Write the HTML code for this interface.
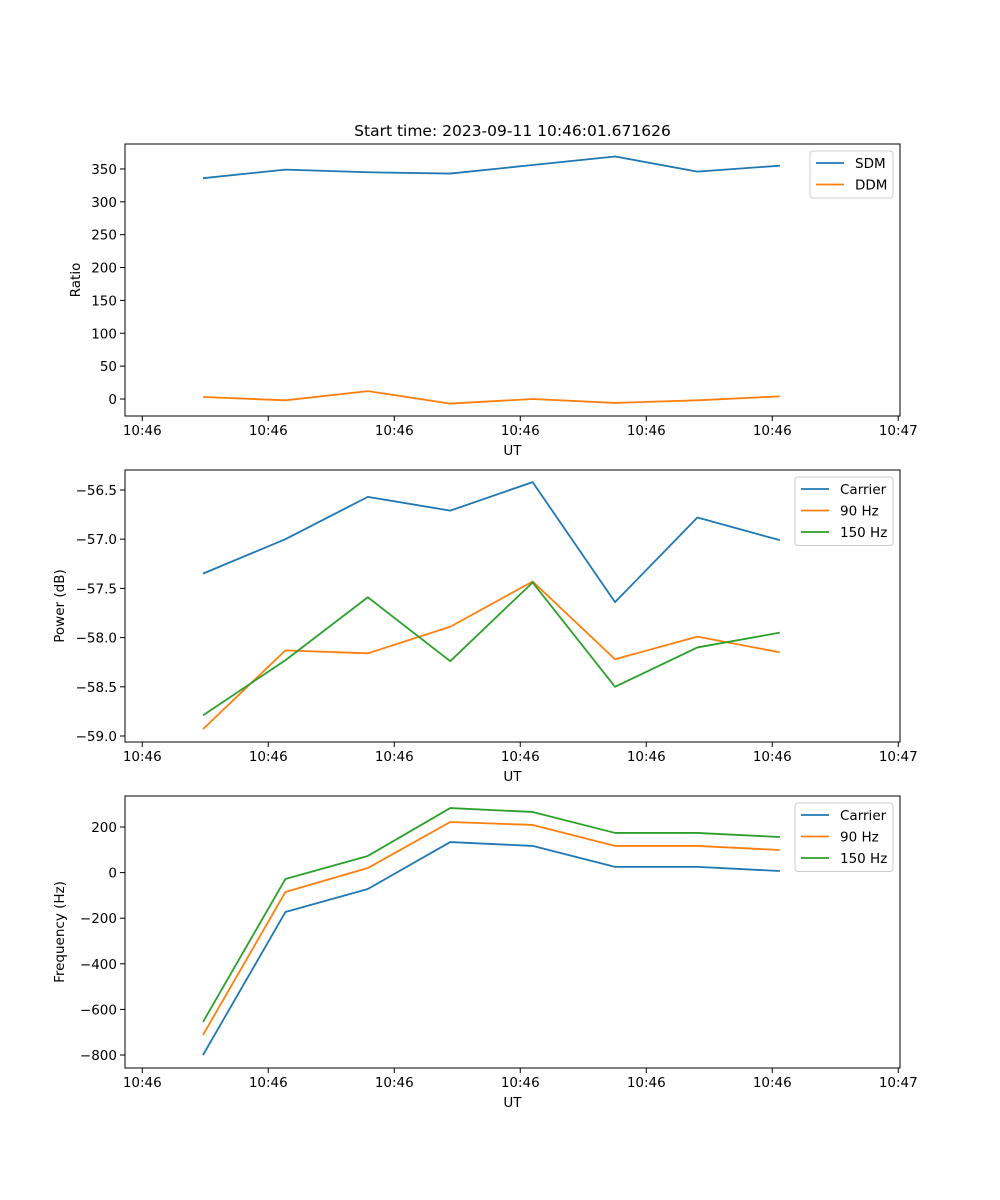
<!DOCTYPE html>
<html><head><meta charset="utf-8"><style>
body{margin:0;background:#fff}
svg{display:block;font-family:"DejaVu Sans","Liberation Sans",sans-serif}
</style></head><body>
<svg id="fig" width="1000" height="1200" viewBox="0 0 1000 1200">
<rect width="1000" height="1200" fill="#fff"/>
<text x="512.5" y="136" text-anchor="middle" font-size="15.5">Start time: 2023-09-11 10:46:01.671626</text>
</svg>
<script>
// time of each sample (s after 10:46:00)
const times = [1.672, 2.326, 2.980, 3.634, 4.288, 4.942, 5.596, 6.250];
const xTicks = [1.19, 2.19, 3.19, 4.19, 5.19, 6.19, 7.19];
const xTickLabels = ["10:46","10:46","10:46","10:46","10:46","10:46","10:47"];
const sdm = [336, 349, 345, 343, 356, 369, 346, 355];
const ddm = [3, -2, 12, -7, 0, -6, -2, 4];
const powCarrier = [-57.35, -57.0, -56.57, -56.71, -56.42, -57.64, -56.78, -57.01];
const pow90 = [-58.93, -58.13, -58.16, -57.89, -57.43, -58.22, -57.99, -58.15];
const pow150 = [-58.79, -58.23, -57.59, -58.24, -57.44, -58.50, -58.10, -57.95];
const freqCarrier = [-800, -173, -72, 134, 117, 25, 25, 7];
const freq90 = [-712, -85, 20, 222, 209, 117, 117, 99];
const freq150 = [-655, -28, 73, 283, 266, 174, 174, 156];
const ratioTicks = [0, 50, 100, 150, 200, 250, 300, 350];
const powTicks = [-59.0, -58.5, -58.0, -57.5, -57.0, -56.5];
const freqTicks = [-800, -600, -400, -200, 0, 200];

const NS = "http://www.w3.org/2000/svg";
const svg = document.getElementById("fig");
function el(tag, attrs, parent){const e=document.createElementNS(NS,tag);for(const k in attrs)e.setAttribute(k,attrs[k]);(parent||svg).appendChild(e);return e;}
const L=125,R=900;
const xMin=times[0]-(203-125)/126, xMax=xMin+(R-L)/126;
const xs=t=>L+(t-xMin)/(xMax-xMin)*(R-L);

function panel(name, top, bot, yMin, yMax, yTicks, fmt, ylabel, series, legendW){
  const g=el("g",{});
  
  
  const ys=v=>bot-(v-yMin)/(yMax-yMin)*(bot-top);
  xTicks.forEach((t,i)=>{
    const x=xs(t);
    el("line",{x1:x,x2:x,y1:bot,y2:bot+5,stroke:"#000","stroke-width":1},g);
    const tx=el("text",{x:x,y:bot+19,"text-anchor":"middle","font-size":13.5},g);
    tx.textContent=xTickLabels[i];
    
    
  });
  yTicks.forEach(v=>{
    const y=ys(v);
    el("line",{x1:L-5,x2:L,y1:y,y2:y,stroke:"#000","stroke-width":1},g);
    const tx=el("text",{x:L-8,y:y+5,"text-anchor":"end","font-size":13.5},g);
    tx.textContent=fmt(v);
    
    
  });
  series.forEach(s=>{
    const p=el("polyline",{points:s.v.map((v,i)=>xs(times[i])+","+ys(v)).join(" "),fill:"none",stroke:s.c,"stroke-width":1.8,"stroke-linejoin":"round"},g);
    
    
  });
  el("rect",{x:L,y:top,width:R-L,height:bot-top,fill:"none",stroke:"#000","stroke-width":1},g);
  const xl=el("text",{x:512.5,y:bot+39,"text-anchor":"middle","font-size":13.5},g);
  xl.textContent="UT";
  
  
  const yl=el("text",{x:0,y:0,"text-anchor":"middle","font-size":13.5,transform:`translate(${name==='ratio'?80:64},${(top+bot)/2}) rotate(-90)`},g);
  yl.textContent=ylabel;
  
  
  const lg=el("g",{},g);
  
  
  const lx=R-7-legendW, ly=top+7;
  el("rect",{x:lx,y:ly,width:legendW,height:4+series.length*21.5,rx:3,fill:"#fff",stroke:"#ccc","stroke-width":1},lg);
  series.forEach((s,i)=>{
    const y=ly+12+i*21.5;
    el("line",{x1:lx+6,x2:lx+34,y1:y,y2:y,stroke:s.c,"stroke-width":1.8},lg);
    const t=el("text",{x:lx+45,y:y+5,"font-size":13.5},lg);
    t.textContent=s.label;
    
    
  });
}
const B="#1f77b4",O="#ff7f0e",G="#2ca02c";
panel("ratio",144,416,-25.9,388,ratioTicks,v=>String(v),"Ratio",
  [{id:"sdm",label:"SDM",v:sdm,c:B},{id:"ddm",label:"DDM",v:ddm,c:O}],83);
panel("power",470,742,-59.061,-56.297,powTicks,v=>v.toFixed(1).replace("-","\u2212"),"Power (dB)",
  [{id:"carrier",label:"Carrier",v:powCarrier,c:B},{id:"90hz",label:"90 Hz",v:pow90,c:O},{id:"150hz",label:"150 Hz",v:pow150,c:G}],98);
panel("frequency",796,1068,-857,336,freqTicks,v=>String(v).replace("-","\u2212"),"Frequency (Hz)",
  [{id:"carrier",label:"Carrier",v:freqCarrier,c:B},{id:"90hz",label:"90 Hz",v:freq90,c:O},{id:"150hz",label:"150 Hz",v:freq150,c:G}],98);
</script>
</body></html>
